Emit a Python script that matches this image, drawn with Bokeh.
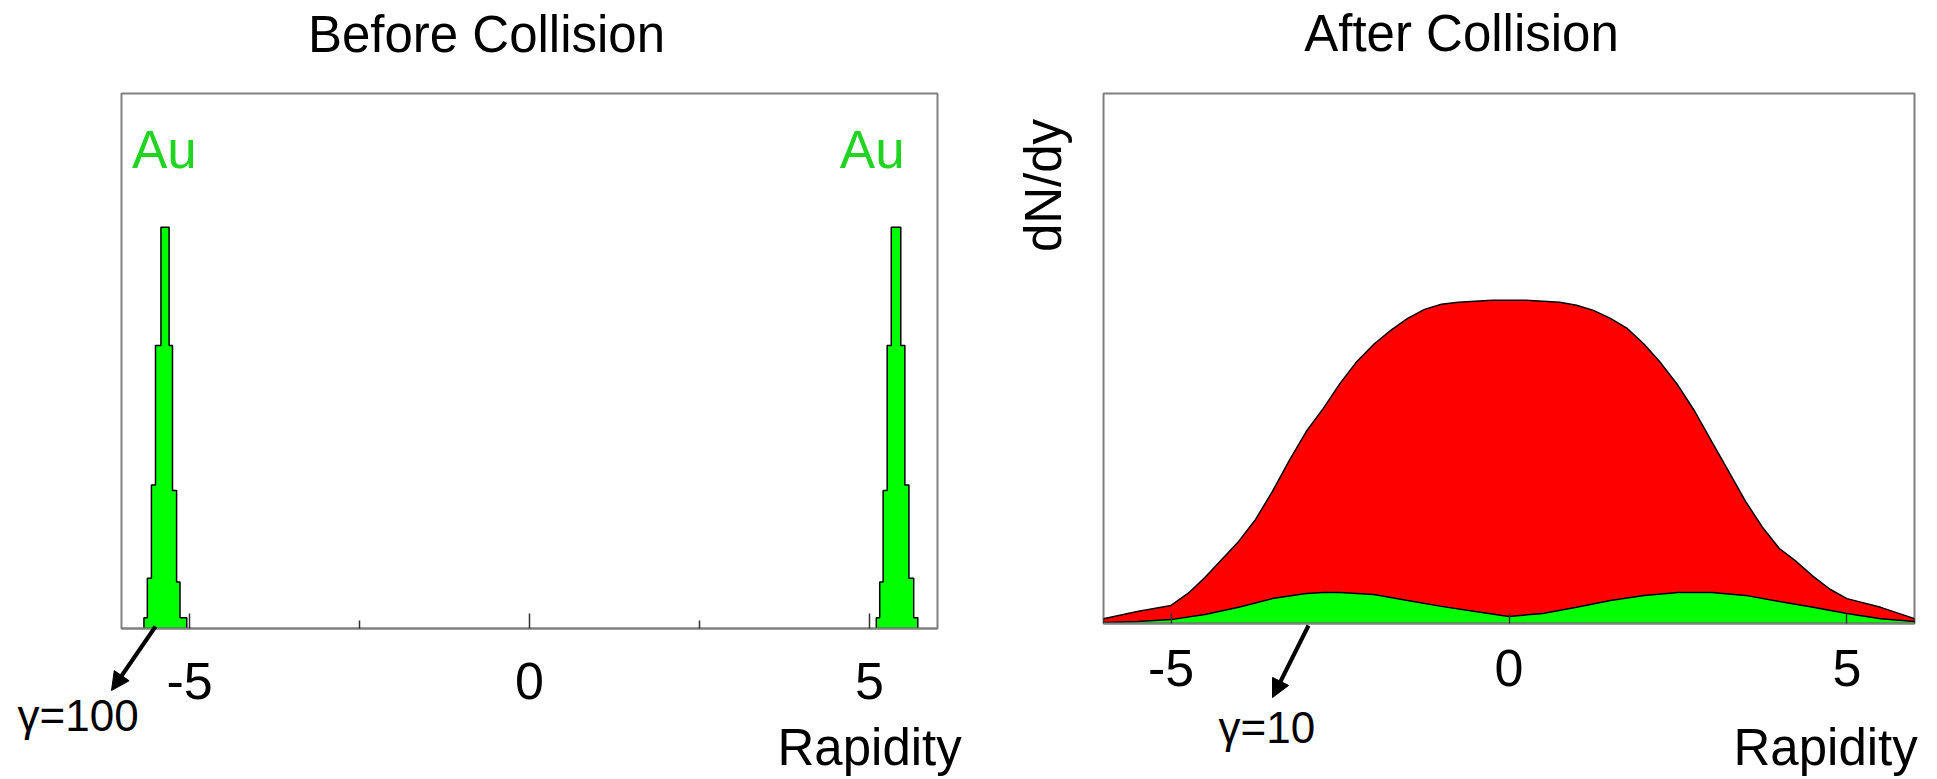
import math
from bokeh.plotting import figure
from bokeh.layouts import row, column
from bokeh.models import Range1d, FixedTicker, Label, Arrow, NormalHead, GridBox
from bokeh.embed import file_html
from bokeh.resources import INLINE

FONT = "Liberation Sans"

# ---------------- data ----------------
# Before collision: Au beam rapidity histograms (bin edges and heights, fraction of frame)
au_neg_edges = [-5.67, -5.62, -5.56, -5.50, -5.42, -5.30, -5.25, -5.19, -5.14, -5.04]
au_neg_counts = [0.020, 0.094, 0.268, 0.529, 0.750, 0.529, 0.258, 0.087, 0.020]
au_pos_edges = [5.10, 5.15, 5.20, 5.26, 5.32, 5.46, 5.52, 5.58, 5.65, 5.71]
au_pos_counts = [0.020, 0.087, 0.258, 0.529, 0.750, 0.529, 0.268, 0.094, 0.020]

tick_major = [-5, 0, 5]
tick_minor = [-2.5, 2.5]
tick_text = {-5: "-5", 0: "0", 5: "5"}

# After collision: dN/dy (arbitrary units) of all produced particles (red)
total_y = [-6.0, -5.5, -5.0, -4.75, -4.5, -4.25, -4.0, -3.75, -3.5, -3.25, -3.0, -2.75,
           -2.5, -2.25, -2.0, -1.75, -1.5, -1.25, -1.0, -0.75, -0.5, -0.25, 0.0, 0.25,
           0.5, 0.75, 1.0, 1.25, 1.5, 1.75, 2.0, 2.25, 2.5, 2.75, 3.0, 3.25, 3.5, 3.75,
           4.0, 4.25, 4.5, 4.75, 5.0, 5.5, 6.0]
total_dndy = [1.5, 3.7, 5.6, 9.3, 14.2, 19.8, 25.4, 32.2, 40.9, 50.5, 59.4, 66.5,
              74.3, 81.1, 86.4, 90.7, 94.4, 97.2, 98.8, 99.4, 99.7, 100.0, 100.0, 100.0,
              99.7, 99.4, 98.5, 96.9, 94.4, 91.3, 86.4, 80.5, 73.7, 65.6, 56.3, 47.1, 37.8, 29.8,
              23.2, 19.2, 14.6, 10.6, 7.7, 5.0, 1.5]
# net baryons (green)
net_y = [-6.0, -5.5, -5.0, -4.5, -4.0, -3.5, -3.0, -2.75, -2.5, -2.0, -1.5, -1.0, -0.5,
         0.0, 0.5, 1.0, 1.5, 2.0, 2.5, 3.0, 3.5, 4.0, 4.5, 5.0, 5.5, 6.0]
net_dndy = [0.3, 0.6, 1.2, 2.8, 5.0, 7.7, 9.3, 9.6, 9.6, 9.0, 7.1, 5.3, 3.7,
            2.2, 3.1, 5.0, 7.1, 8.7, 9.6, 9.6, 8.7, 6.8, 5.0, 3.1, 1.5, 0.6]


def step_polygon(edges, counts):
    xs, ys = [edges[0]], [0.0]
    for i, c in enumerate(counts):
        xs += [edges[i], edges[i + 1]]
        ys += [c, c]
    xs.append(edges[-1])
    ys.append(0.0)
    return xs, ys


def style_axis(ax, major_in, minor_in, standoff):
    ax.major_label_text_font = FONT
    ax.major_label_text_font_size = "52px"
    ax.major_label_text_color = "black"
    ax.major_label_standoff = standoff
    ax.major_label_overrides = tick_text
    ax.major_tick_in = major_in
    ax.major_tick_out = 0
    ax.minor_tick_in = minor_in
    ax.minor_tick_out = 0
    ax.axis_line_color = "#808080"
    ax.axis_line_width = 2
    ax.major_tick_line_color = "#333333"
    ax.major_tick_line_width = 1.5
    ax.minor_tick_line_color = "#333333"
    ax.minor_tick_line_width = 1.5


def base_fig(width, ymax, left, right, bottom):
    p = figure(width=width, height=779, x_range=Range1d(-6, 6), y_range=Range1d(0, ymax),
               output_backend="svg", toolbar_location=None, y_axis_location=None,
               min_border_left=left, min_border_right=right, min_border_top=93,
               min_border_bottom=bottom)
    p.grid.visible = False
    p.outline_line_color = "#808080"
    p.outline_line_width = 2
    p.background_fill_color = "white"
    p.border_fill_color = "white"
    return p


# ---------------- left: before collision ----------------
p1 = base_fig(951, 1.0, 121, 14, 151)
for edges, counts in [(au_neg_edges, au_neg_counts), (au_pos_edges, au_pos_counts)]:
    xs, ys = step_polygon(edges, counts)
    p1.patch(xs, ys, fill_color="#00ff00", line_color="black", line_width=1.5)

p1.xaxis.ticker = FixedTicker(ticks=tick_major, minor_ticks=tick_minor)
style_axis(p1.xaxis[0], 15, 8, 34)

for xc in [-5.37, 5.04]:
    p1.add_layout(Label(x=xc, y=0.895, text="Au", text_align="center",
                        text_baseline="alphabetic", text_font=FONT, text_font_size="53px",
                        text_color="#22d422"))

# ---------------- right: after collision ----------------
YMAX2 = 164.0
p2 = base_fig(986, YMAX2, 152, 23, 156)
p2.patch([total_y[0]] + total_y + [total_y[-1]], [0.0] + total_dndy + [0.0],
         fill_color="#ff0000", line_color="black", line_width=1.5)
p2.patch([net_y[0]] + net_y + [net_y[-1]], [0.0] + net_dndy + [0.0],
         fill_color="#00ff00", line_color="black", line_width=1.5)

p2.xaxis.ticker = FixedTicker(ticks=tick_major)
style_axis(p2.xaxis[0], 10, 0, 26)

# ---------------- transparent overlay for texts/arrows outside the frames ----------------
ov = figure(width=1937, height=779, x_range=Range1d(0, 1937), y_range=Range1d(779, 0),
            output_backend="svg", toolbar_location=None, x_axis_location=None,
            y_axis_location=None, min_border=0)
ov.grid.visible = False
ov.outline_line_color = None
ov.background_fill_color = None
ov.border_fill_color = None


def txt(x, y, s, size="51px", align="left", angle=0.0, baseline="alphabetic"):
    ov.add_layout(Label(x=x, y=y, text=s, text_align=align, text_baseline=baseline,
                        angle=angle, text_font=FONT, text_font_size=size,
                        text_color="black"))


txt(486, 34, "Before Collision", align="center")
txt(1461, 33, "After Collision", align="center")
txt(1043, 185, "dN/dy", align="center", angle=math.pi / 2, baseline="middle")
txt(17, 715, "γ=100", size="44px")
txt(1218, 727, "γ=10", size="44px")
txt(777, 747, "Rapidity")
txt(1733, 747, "Rapidity")

for xs_, ys_, xe_, ye_ in [(155, 626, 111, 690), (1308, 625, 1272, 697)]:
    ov.add_layout(Arrow(end=NormalHead(size=18, fill_color="black", line_color="black"),
                        x_start=xs_, y_start=ys_, x_end=xe_, y_end=ye_,
                        line_color="black", line_width=4))

panels = row(column(p1), column(p2))
layout = GridBox(children=[(panels, 0, 0), (column(ov), 0, 0)], spacing=0)
open("out.html", "w").write(file_html(layout, INLINE))
